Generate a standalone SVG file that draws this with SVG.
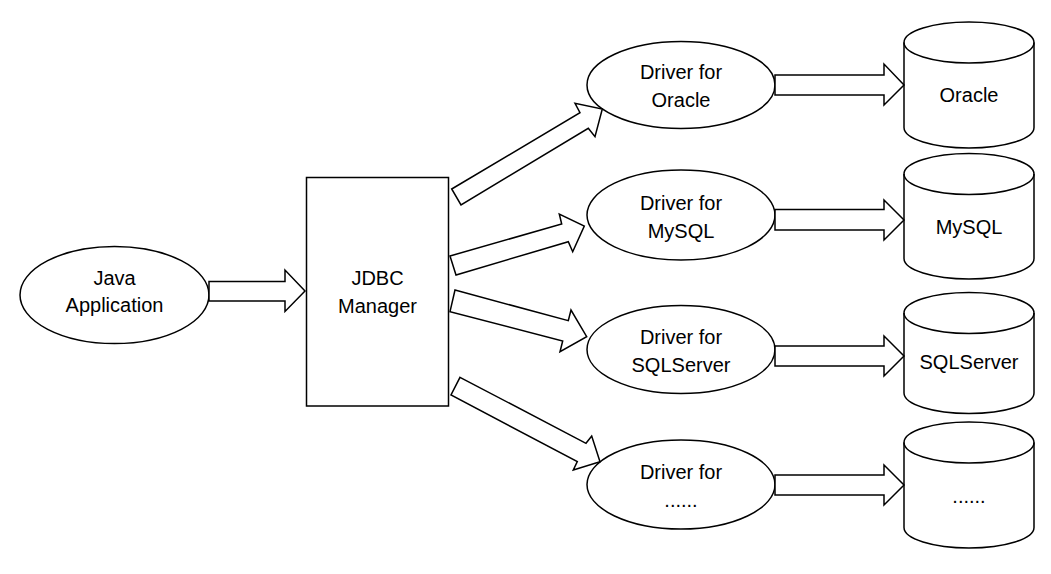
<svg xmlns="http://www.w3.org/2000/svg" width="1051" height="574" viewBox="0 0 1051 574">
<style>
.s{fill:#fff;stroke:#000;stroke-width:1.5;stroke-linejoin:miter}
.l{fill:none;stroke:#000;stroke-width:1.5}
text{font-family:"Liberation Sans",Arial,sans-serif;font-size:20px;fill:#000;text-anchor:middle}
</style>
<rect width="1051" height="574" fill="#fff"/>
<g id="java"><ellipse class="s" cx="114.5" cy="295" rx="94.5" ry="48.5"/><text x="114.5" y="285">Java</text><text x="114.5" y="312">Application</text></g>
<g id="jdbc"><rect class="s" x="306.5" y="177.5" width="142" height="228.5"/><text x="377.5" y="285">JDBC</text><text x="377.5" y="313">Manager</text></g>
<g id="drv-oracle"><ellipse class="s" cx="681" cy="85" rx="94" ry="43.5"/><text x="681" y="78.5">Driver for</text><text x="681" y="106.5">Oracle</text></g>
<g id="drv-mysql"><ellipse class="s" cx="681" cy="215" rx="94" ry="45"/><text x="681" y="210">Driver for</text><text x="681" y="237.5">MySQL</text></g>
<g id="drv-sqlserver"><ellipse class="s" cx="681" cy="349.5" rx="94" ry="44"/><text x="681" y="343.5">Driver for</text><text x="681" y="371.5">SQLServer</text></g>
<g id="drv-other"><ellipse class="s" cx="681" cy="484.5" rx="94" ry="44.5"/><text x="681" y="478.5">Driver for</text><text x="681" y="506.5">......</text></g>
<g id="db-oracle"><path class="s" d="M904,42.5 A65,20.5 0 0 1 1034,42.5 V127.5 A65,20.5 0 0 1 904,127.5 Z"/><path class="l" d="M904,42.5 A65,20.5 0 0 0 1034,42.5"/><text x="969" y="102">Oracle</text></g>
<g id="db-mysql"><path class="s" d="M904,174 A65,20.5 0 0 1 1034,174 V258.5 A65,20.5 0 0 1 904,258.5 Z"/><path class="l" d="M904,174 A65,20.5 0 0 0 1034,174"/><text x="969" y="234">MySQL</text></g>
<g id="db-sqlserver"><path class="s" d="M904,313 A65,20.5 0 0 1 1034,313 V393 A65,20.5 0 0 1 904,393 Z"/><path class="l" d="M904,313 A65,20.5 0 0 0 1034,313"/><text x="969" y="368.5">SQLServer</text></g>
<g id="db-other"><path class="s" d="M904,442.5 A65,20.5 0 0 1 1034,442.5 V527.5 A65,20.5 0 0 1 904,527.5 Z"/><path class="l" d="M904,442.5 A65,20.5 0 0 0 1034,442.5"/><text x="969" y="503">......</text></g>
<g id="connectors">
<polygon class="s" points="209,281.5 285,281.5 285,270 305,291 285,311.5 285,301 209,301"/>
<polygon class="s" points="451.7,189 580,112.7 575,103.3 602.3,109 595,136.7 588.3,128.3 461,205"/>
<polygon class="s" points="450,256 561.7,224 559.3,214 584.3,226 572.7,251.7 568.3,241.7 456,275"/>
<polygon class="s" points="455,290 568.3,320.7 571,310 586.7,336.7 560,351.7 562.7,341 450,311.7"/>
<polygon class="s" points="460,377.3 586,443.3 591.7,436 600,461.7 573.3,470 577.3,461.7 451,395"/>
<polygon class="s" points="775,75 884,75 884,64 904,85 884,105 884,95 775,95"/>
<polygon class="s" points="775,209.5 884,209.5 884,200 904,220 884,240 884,230 775,230"/>
<polygon class="s" points="775,346 884,346 884,336 904,356 884,376 884,366 775,366"/>
<polygon class="s" points="775,475 884,475 884,465 904,485 884,505 884,495 775,495"/>
</g>
</svg>
